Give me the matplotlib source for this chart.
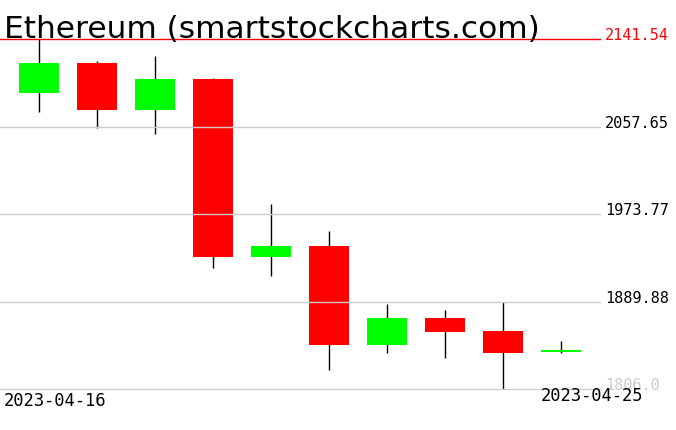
import matplotlib

matplotlib.use("Agg")
import matplotlib.pyplot as plt
from matplotlib.transforms import blended_transform_factory

# daily OHLC
dates = ["2023-04-16", "2023-04-17", "2023-04-18", "2023-04-19", "2023-04-20",
         "2023-04-21", "2023-04-22", "2023-04-23", "2023-04-24", "2023-04-25"]
opens = [2090.1, 2118.5, 2073.8, 2103.2, 1932.5, 1943.1, 1848.5, 1874.1, 1861.6, 1841.4]
highs = [2141.54, 2120.2, 2125.2, 2104.1, 1983.4, 1957.5, 1887.5, 1881.7, 1889.1, 1852.0]
lows = [2071.8, 2055.9, 2050.7, 1922.3, 1914.3, 1824.2, 1840.8, 1836.0, 1806.0, 1840.6]
closes = [2118.5, 2073.8, 2103.2, 1932.5, 1943.1, 1848.5, 1874.1, 1860.9, 1840.8, 1843.0]

top_level = 2141.54
grid_levels = [2057.65, 1973.77, 1889.88]
bottom_level = 1806.0

W, H = 676, 431
fig = plt.figure(figsize=(W / 100, H / 100), dpi=100)
# plot area: x 0..600 px, y 40..390 px (from top)
ax = fig.add_axes([0, (H - 390) / H, 600 / W, 350 / H])
ax.set_axis_off()
ax.set_xlim(-0.672, 9.672)
ax.set_ylim(bottom_level, top_level)

x = list(range(len(dates)))
ax.vlines(x, lows, highs, color="black", lw=1, zorder=1, clip_on=False)
colors = ["#00ff00" if c >= o else "#ff0000" for o, c in zip(opens, closes)]
bottoms = [min(o, c) for o, c in zip(opens, closes)]
heights = [abs(c - o) for o, c in zip(opens, closes)]
ax.bar(x, heights, bottom=bottoms, width=0.69, color=colors, lw=0, zorder=2)

for lvl in grid_levels + [bottom_level]:
    ax.axhline(lvl, color="#cccccc", lw=1, zorder=3, clip_on=False)
ax.axhline(top_level, color="red", lw=1, zorder=3, clip_on=False)

tr = blended_transform_factory(ax.transAxes, ax.transData)
lx = 605 / 600
mono = "DejaVu Sans Mono"
ax.text(lx, top_level, f"{top_level:.2f}", color="red", fontsize=11,
        family=mono, va="baseline", ha="left", transform=tr, clip_on=False)
for lvl in grid_levels:
    ax.text(lx, lvl, f"{lvl:.2f}", color="black", fontsize=11,
            family=mono, va="baseline", ha="left", transform=tr, clip_on=False)
ax.text(lx, bottom_level, f"{bottom_level:.1f}", color="#cccccc", fontsize=11,
        family=mono, va="baseline", ha="left", transform=tr, clip_on=False)

fig.text(4 / W, 1 - 38 / H, "Ethereum (smartstockcharts.com)", fontsize=22.5,
         color="black", va="baseline", ha="left")
fig.text(4 / W, 1 - 406 / H, dates[0], fontsize=12.3, family=mono,
         color="black", va="baseline", ha="left")
fig.text(541 / W, 1 - 401 / H, dates[-1], fontsize=12.3, family=mono,
         color="black", va="baseline", ha="left")

fig.savefig("out.png", dpi=100)
